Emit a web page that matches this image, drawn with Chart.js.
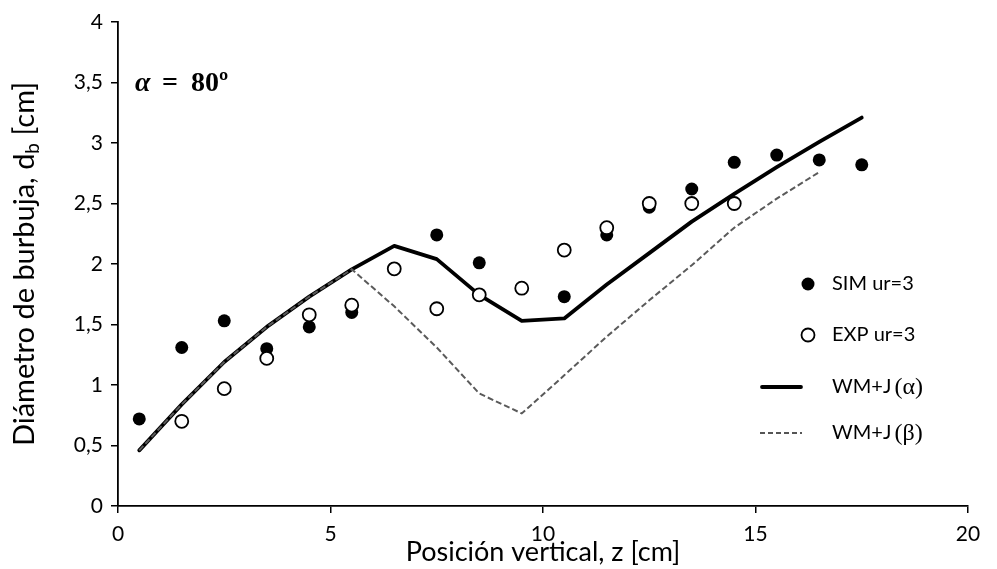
<!DOCTYPE html>
<html>
<head>
<meta charset="utf-8">
<script src="https://cdn.jsdelivr.net/npm/chart.js@4.4.1/dist/chart.umd.min.js"></script>
<style>
  html, body { margin: 0; padding: 0; background: #fff; }
  #wrap { width: 997px; height: 569px; }
</style>
</head>
<body>
<div id="wrap"><canvas id="c" width="997" height="569"></canvas></div>
<script>
// ---- data ----
const simZ      = [0.5, 1.5, 2.5, 3.5, 4.5, 5.5, 6.5, 7.5, 8.5, 9.5, 10.5, 11.5, 12.5, 13.5, 14.5, 15.5, 16.5, 17.5];
const simValues = [0.72, 1.31, 1.53, 1.30, 1.48, 1.60, 1.96, 2.24, 2.01, 1.80, 1.73, 2.24, 2.47, 2.62, 2.84, 2.90, 2.86, 2.82];

const expZ      = [1.5, 2.5, 3.5, 4.5, 5.5, 6.5, 7.5, 8.5, 9.5, 10.5, 11.5, 12.5, 13.5, 14.5];
const expValues = [0.70, 0.97, 1.22, 1.58, 1.66, 1.96, 1.63, 1.745, 1.80, 2.115, 2.30, 2.50, 2.50, 2.50];

const alphaZ      = [0.5, 1.5, 2.5, 3.5, 4.5, 5.5, 6.5, 7.5, 8.5, 9.5, 10.5, 11.5, 12.5, 13.5, 14.5, 15.5, 16.5, 17.5];
const alphaValues = [0.46, 0.84, 1.19, 1.48, 1.73, 1.956, 2.15, 2.04, 1.745, 1.53, 1.55, 1.83, 2.09, 2.35, 2.58, 2.80, 3.01, 3.21];

const betaZ      = [0.5, 1.5, 2.5, 3.5, 4.5, 5.5, 6.5, 7.5, 8.5, 9.5, 10.5, 11.5, 12.5, 13.5, 14.5, 15.5, 16.5];
const betaValues = [0.46, 0.84, 1.19, 1.48, 1.73, 1.956, 1.65, 1.31, 0.93, 0.765, 1.08, 1.40, 1.70, 1.99, 2.30, 2.54, 2.76];

const xTicks = [0, 5, 10, 15, 20];
const yTicks = [0, 0.5, 1, 1.5, 2, 2.5, 3, 3.5, 4];

const legendLabels = ['SIM ur=3', 'EXP ur=3', 'WM+J ', 'WM+J '];
const legendGreek  = ['', '', '(α)', '(β)'];
const xTitle = 'Posición vertical, z [cm]';
const yTitleMain = 'Diámetro de burbuja, d';
const yTitleSub = 'b';
const yTitleEnd = ' [cm]';

const pts = (xs, ys) => xs.map((x, i) => ({ x: x, y: ys[i] }));
const SANS = 'Lato, "Liberation Sans", sans-serif';
const SERIF = '"Liberation Serif", "DejaVu Serif", serif';

const overlay = {
  id: 'overlay',
  afterDraw(chart) {
    const ctx = chart.ctx;
    const a = chart.chartArea;
    ctx.save();
    ctx.fillStyle = '#000';
    // x title
    ctx.font = '27px ' + SANS;
    ctx.textAlign = 'center';
    ctx.textBaseline = 'middle';
    ctx.fillText(xTitle, (a.left + a.right) / 2, 552);

    // y title with subscript
    ctx.save();
    ctx.translate(25, (a.top + a.bottom) / 2);
    ctx.rotate(-Math.PI / 2);
    ctx.textBaseline = 'middle';
    ctx.textAlign = 'left';
    ctx.font = '29px ' + SANS;
    const w1 = ctx.measureText(yTitleMain).width;
    ctx.font = '19px ' + SANS;
    const w2 = ctx.measureText(yTitleSub).width;
    ctx.font = '29px ' + SANS;
    const w3 = ctx.measureText(yTitleEnd).width;
    let x0 = -(w1 + w2 + w3) / 2;
    ctx.fillText(yTitleMain, x0, 0);
    ctx.font = '19px ' + SANS;
    ctx.fillText(yTitleSub, x0 + w1, 8);
    ctx.font = '29px ' + SANS;
    ctx.fillText(yTitleEnd, x0 + w1 + w2, 0);
    ctx.restore();

    // annotation alpha = 80º
    ctx.textAlign = 'left';
    ctx.textBaseline = 'alphabetic';
    ctx.font = 'italic bold 28px ' + SERIF;
    ctx.fillText('α', 135, 91);
    ctx.font = 'bold 28px ' + SERIF;
    ctx.fillText('=', 162, 91);
    ctx.fillText('80º', 191, 91);

    // legend
    const ly = [284, 335, 387, 433];
    const mx = 808;
    const tx = 832;
    ctx.textBaseline = 'middle';
    // SIM marker
    ctx.beginPath();
    ctx.arc(mx, ly[0], 6.5, 0, Math.PI * 2);
    ctx.fillStyle = '#000';
    ctx.fill();
    // EXP marker
    ctx.beginPath();
    ctx.arc(mx, ly[1], 6.5, 0, Math.PI * 2);
    ctx.fillStyle = '#fff';
    ctx.fill();
    ctx.lineWidth = 1.8;
    ctx.strokeStyle = '#000';
    ctx.stroke();
    // alpha line
    ctx.beginPath();
    ctx.moveTo(762, ly[2]);
    ctx.lineTo(801, ly[2]);
    ctx.lineWidth = 3.8;
    ctx.lineCap = 'round';
    ctx.strokeStyle = '#000';
    ctx.stroke();
    // beta line
    ctx.beginPath();
    ctx.setLineDash([5, 3]);
    ctx.lineCap = 'butt';
    ctx.moveTo(760, ly[3]);
    ctx.lineTo(802, ly[3]);
    ctx.lineWidth = 1.8;
    ctx.strokeStyle = '#555';
    ctx.stroke();
    ctx.setLineDash([]);

    ctx.fillStyle = '#000';
    for (let i = 0; i < 4; i++) {
      ctx.font = '20px ' + SANS;
      ctx.fillText(legendLabels[i], tx, ly[i]);
      if (legendGreek[i]) {
        const w = ctx.measureText(legendLabels[i]).width;
        ctx.font = '24px ' + SERIF;
        ctx.fillText(legendGreek[i], tx + w - 2, ly[i] + 1);
      }
    }
    ctx.restore();
  }
};

const fmt = v => String(v).replace('.', ',');

new Chart(document.getElementById('c'), {
  type: 'scatter',
  data: {
    datasets: [
      {
        label: 'EXP ur=3',
        data: pts(expZ, expValues),
        pointStyle: 'circle',
        pointRadius: 6.5,
        pointBackgroundColor: '#fff',
        pointBorderColor: '#000',
        pointBorderWidth: 1.8,
        showLine: false,
        order: 0
      },
      {
        label: 'SIM ur=3',
        data: pts(simZ, simValues),
        pointStyle: 'circle',
        pointRadius: 6.5,
        pointBackgroundColor: '#000',
        pointBorderColor: '#000',
        pointBorderWidth: 0,
        showLine: false,
        order: 1
      },
      {
        label: 'WM+J (β)',
        data: pts(betaZ, betaValues),
        showLine: true,
        borderColor: '#5a5a5a',
        borderWidth: 2,
        borderDash: [6, 3],
        pointRadius: 0,
        tension: 0,
        fill: false,
        order: 2
      },
      {
        label: 'WM+J (α)',
        data: pts(alphaZ, alphaValues),
        showLine: true,
        borderColor: '#000',
        borderWidth: 3.8,
        borderCapStyle: 'round',
        borderJoinStyle: 'round',
        pointRadius: 0,
        tension: 0,
        fill: false,
        order: 3
      }
    ]
  },
  options: {
    responsive: false,
    animation: false,
    devicePixelRatio: 1,
    layout: { padding: { top: 22, right: 29, bottom: 0, left: 0 } },
    plugins: {
      legend: { display: false },
      tooltip: { enabled: false },
      title: { display: false }
    },
    scales: {
      x: {
        type: 'linear',
        min: 0, max: 20,
        afterFit: s => { s.height = 63; },
        afterBuildTicks: s => { s.ticks = xTicks.map(v => ({ value: v })); },
        ticks: {
          color: '#000',
          font: { family: SANS, size: 21 },
          padding: 9,
          maxRotation: 0,
          callback: v => fmt(v)
        },
        grid: { display: true, drawOnChartArea: false, drawTicks: true, tickLength: 7, color: '#000', lineWidth: 1.5 },
        border: { display: true, color: '#000', width: 1.8 },
        title: { display: false }
      },
      y: {
        type: 'linear',
        min: 0, max: 4,
        afterFit: s => { s.width = 118; },
        afterBuildTicks: s => { s.ticks = yTicks.map(v => ({ value: v })); },
        ticks: {
          color: '#000',
          font: { family: SANS, size: 21 },
          padding: 8,
          callback: v => fmt(v)
        },
        grid: { display: true, drawOnChartArea: false, drawTicks: true, tickLength: 7, color: '#000', lineWidth: 1.5 },
        border: { display: true, color: '#000', width: 1.8 },
        title: { display: false }
      }
    }
  },
  plugins: [overlay]
});
</script>
</body>
</html>
